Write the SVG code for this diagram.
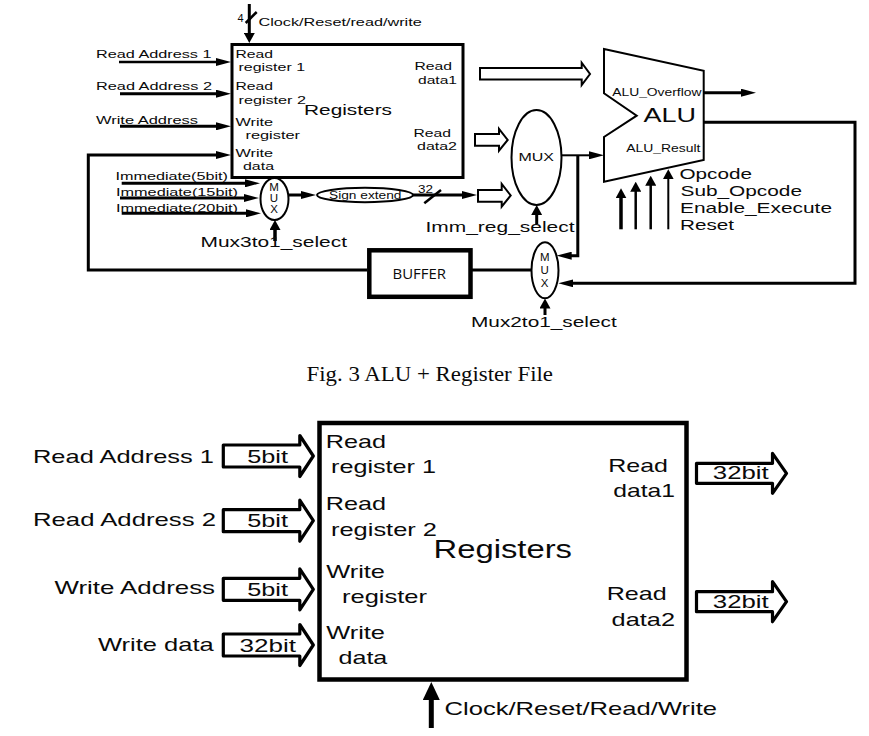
<svg xmlns="http://www.w3.org/2000/svg" width="869" height="736" viewBox="0 0 869 736">
<style>
text{font-family:"Liberation Sans",Arial,sans-serif;fill:#0a0a0a}
.t9{font-size:10px}.t10{font-size:11px}.t11{font-size:11.5px}.t14{font-size:15px}.t19{font-size:19px}
.cap{font-family:"Liberation Serif","Times New Roman",serif;font-size:21px}
.n{fill:#fff;stroke:#000;stroke-width:2}
.c{fill:none;stroke:#000;stroke-linejoin:miter}
.w2{stroke-width:2}.w25{stroke-width:2.500}.w3{stroke-width:3}.w35{stroke-width:3.500}.w5{stroke-width:5}
.h{marker-end:url(#m1)}.u{marker-end:url(#m2)}.b{marker-end:url(#m3)}
.ha{fill:#fff;stroke:#000;stroke-width:2;stroke-linejoin:miter}
.hb{fill:#fff;stroke:#000;stroke-width:3.200;stroke-linejoin:round}
</style>
<defs>
<marker id="m1" markerUnits="userSpaceOnUse" markerWidth="15" markerHeight="8" refX="1" refY="4" orient="auto" viewBox="0 0 15 8"><path d="M0 0L15 4L0 8z"/></marker>
<marker id="m2" markerUnits="userSpaceOnUse" markerWidth="10" markerHeight="11" refX="1" refY="5.500" orient="auto" viewBox="0 0 10 11"><path d="M0 0L10 5.500L0 11z"/></marker>
<marker id="m3" markerUnits="userSpaceOnUse" markerWidth="18" markerHeight="17" refX="1" refY="8.500" orient="auto" viewBox="0 0 18 17"><path d="M0 0L18 8.500L0 17z"/></marker>
<path id="inArrow" d="M0-11H76.500V-20.500L90 0L76.500 20.500V11H0z"/>
<path id="outArrow" d="M0-10H76V-20L90 0L76 20V10H0z"/>
</defs>

<g id="connectors-top">
<path class="c w3 u" d="M249.300 4V34"/>
<path class="c w25" d="M245.700 23L256.700 12"/>
<path class="c w25 h" d="M119 62H217"/>
<path class="c w3 h" d="M120 93.700H217"/>
<path class="c w3 h" d="M120 126.300H217"/>
<path class="c w3 h" d="M367 270H88.300V155H217"/>
<path class="c w3 h" d="M121.700 183.300H246"/>
<path class="c w3 h" d="M120 198H245"/>
<path class="c w3 h" d="M121.700 213.300H247"/>
<path class="c w3 h" d="M288 195H302"/>
<path class="c w3 h" d="M413 195H463"/>
<path class="c w25" d="M424.300 203.300L441 190"/>
<path class="c w35 u" d="M275 241V229"/>
<path class="c w3 u" d="M536.700 224V214"/>
<path class="c w2 h" d="M562 155.300H590"/>
<path class="c w3 h" d="M577.800 155.300V255.700H570.700"/>
<path class="c w3 h" d="M704 92.700H742"/>
<path class="c w3 h" d="M704 122.300H855V283.300H572.300"/>
<path class="c w3" d="M472 270H532"/>
<path class="c w3 u" d="M545 315V307.500"/>
<path class="c w35 u" d="M621 229.300V197.300"/>
<path class="c w25 u" d="M635.700 229.300V190.700"/>
<path class="c w25 u" d="M650.700 229.300V184.700"/>
<path class="c w2 u" d="M668.300 229.300V178.300"/>
</g>

<g id="hollow-arrows-top">
<path class="ha" d="M480 68H581.700V62.700L590 74L581.700 85V79.500H480z"/>
<path class="ha" d="M475 134H499V129L507.700 140L499 150.700V145.700H475z"/>
<path class="ha" d="M478 190H501.700V184L510.700 195.500L501.700 206.700V201.700H478z"/>
</g>

<g id="top-labels">
<text class="t10" x="237.500" y="21.500">4</text>
<text class="t11" x="258.500" y="26" textLength="163.200" lengthAdjust="spacingAndGlyphs">Clock/Reset/read/write</text>
<text class="t11" x="96" y="58" textLength="115.500" lengthAdjust="spacingAndGlyphs">Read Address 1</text>
<text class="t11" x="96" y="90" textLength="116" lengthAdjust="spacingAndGlyphs">Read Address 2</text>
<text class="t11" x="96" y="124" textLength="102" lengthAdjust="spacingAndGlyphs">Write Address</text>
<text class="t11" x="115.500" y="180" textLength="112.500" lengthAdjust="spacingAndGlyphs">Immediate(5bit)</text>
<text class="t11" x="116" y="196" textLength="122" lengthAdjust="spacingAndGlyphs">Immediate(15bit)</text>
<text class="t11" x="116" y="211.700" textLength="122" lengthAdjust="spacingAndGlyphs">Immediate(20bit)</text>
<text class="t14" x="200.500" y="247" textLength="146.500" lengthAdjust="spacingAndGlyphs">Mux3to1_select</text>
<text class="t14" x="425.500" y="232" textLength="149" lengthAdjust="spacingAndGlyphs">Imm_reg_select</text>
<text class="t14" x="471" y="326.700" textLength="145.700" lengthAdjust="spacingAndGlyphs">Mux2to1_select</text>
<text class="t14" x="679.500" y="179" textLength="72.500" lengthAdjust="spacingAndGlyphs">Opcode</text>
<text class="t14" x="680.500" y="196" textLength="121.500" lengthAdjust="spacingAndGlyphs">Sub_Opcode</text>
<text class="t14" x="680" y="212.700" textLength="152" lengthAdjust="spacingAndGlyphs">Enable_Execute</text>
<text class="t14" x="680" y="229.500" textLength="54" lengthAdjust="spacingAndGlyphs">Reset</text>
<text class="t10" x="418" y="193" textLength="15" lengthAdjust="spacingAndGlyphs">32</text>
</g>

<g id="registers-top">
<rect x="232" y="44.500" width="231" height="133" fill="#fff" stroke="#000" stroke-width="3"/>
<text class="t11" x="235.500" y="58" textLength="37.500" lengthAdjust="spacingAndGlyphs">Read</text>
<text class="t11" x="238.500" y="71" textLength="66.500" lengthAdjust="spacingAndGlyphs">register 1</text>
<text class="t11" x="235.500" y="90" textLength="37.500" lengthAdjust="spacingAndGlyphs">Read</text>
<text class="t11" x="238.500" y="104" textLength="67.500" lengthAdjust="spacingAndGlyphs">register 2</text>
<text class="t11" x="235.500" y="126" textLength="37.500" lengthAdjust="spacingAndGlyphs">Write</text>
<text class="t11" x="245.500" y="139" textLength="54.500" lengthAdjust="spacingAndGlyphs">register</text>
<text class="t11" x="235.500" y="157" textLength="37.500" lengthAdjust="spacingAndGlyphs">Write</text>
<text class="t11" x="243" y="170" textLength="31" lengthAdjust="spacingAndGlyphs">data</text>
<text class="t14" x="304" y="115" textLength="88" lengthAdjust="spacingAndGlyphs">Registers</text>
<text class="t11" x="414.500" y="70" textLength="37.500" lengthAdjust="spacingAndGlyphs">Read</text>
<text class="t11" x="418" y="84" textLength="39" lengthAdjust="spacingAndGlyphs">data1</text>
<text class="t11" x="413.500" y="137" textLength="37.500" lengthAdjust="spacingAndGlyphs">Read</text>
<text class="t11" x="417" y="150" textLength="40" lengthAdjust="spacingAndGlyphs">data2</text>
</g>

<g id="mux3to1">
<ellipse class="n" cx="274.500" cy="199" rx="14" ry="21"/>
<text class="t11" x="274" y="190.700" text-anchor="middle">M</text>
<text class="t11" x="274" y="202" text-anchor="middle">U</text>
<text class="t11" x="274" y="213" text-anchor="middle">X</text>
</g>

<g id="sign-extend">
<ellipse class="n" cx="365" cy="195" rx="48" ry="7.200"/>
<text class="t9" x="329" y="198.500" textLength="72.500" lengthAdjust="spacingAndGlyphs">Sign extend</text>
</g>

<g id="mux-main">
<ellipse class="n" cx="536.500" cy="157.500" rx="25" ry="47.500"/>
<text class="t11" x="518.500" y="161" textLength="35.500" lengthAdjust="spacingAndGlyphs">MUX</text>
</g>

<g id="alu">
<path class="n" d="M604 49L703.700 70.700V160L604 181.700V137L636.700 115.700L604 93.300z"/>
<text class="t9" x="612.200" y="96" textLength="89.300" lengthAdjust="spacingAndGlyphs">ALU_Overflow</text>
<text x="643.500" y="122" font-size="20" textLength="52.500" lengthAdjust="spacingAndGlyphs">ALU</text>
<text class="t9" x="626.200" y="151.700" textLength="74.300" lengthAdjust="spacingAndGlyphs">ALU_Result</text>
</g>

<g id="mux2to1">
<ellipse class="n" cx="545" cy="270.300" rx="13.500" ry="28"/>
<text class="t11" x="544.700" y="260.700" text-anchor="middle">M</text>
<text class="t11" x="544.700" y="274" text-anchor="middle">U</text>
<text class="t11" x="544.700" y="287" text-anchor="middle">X</text>
</g>

<g id="buffer">
<rect x="369.300" y="250.300" width="101.200" height="46.500" fill="#fff" stroke="#000" stroke-width="4.500"/>
<text x="392.500" y="279" font-size="14" textLength="53.500" lengthAdjust="spacingAndGlyphs" style="font-family:'Open Sans','Liberation Sans',sans-serif">BUFFER</text>
</g>

<text id="caption" class="cap" x="306.500" y="381" textLength="246.500" lengthAdjust="spacingAndGlyphs">Fig. 3 ALU + Register File</text>

<g id="connectors-bottom">
<path class="c w5 b" d="M431.300 728V699"/>
<use href="#inArrow" class="hb" transform="translate(223.300 456)"/>
<use href="#inArrow" class="hb" transform="translate(223.300 520.700)"/>
<use href="#inArrow" class="hb" transform="translate(223.300 589.300)"/>
<use href="#inArrow" class="hb" transform="translate(223.300 645)"/>
<use href="#outArrow" class="hb" transform="translate(696.500 473.300)"/>
<use href="#outArrow" class="hb" transform="translate(696.500 601.700)"/>
</g>

<g id="bottom-labels">
<text class="t19" x="33" y="463.300" textLength="181" lengthAdjust="spacingAndGlyphs">Read Address 1</text>
<text class="t19" x="33" y="526" textLength="183" lengthAdjust="spacingAndGlyphs">Read Address 2</text>
<text class="t19" x="54.500" y="594.300" textLength="160.500" lengthAdjust="spacingAndGlyphs">Write Address</text>
<text class="t19" x="98" y="650.700" textLength="115.700" lengthAdjust="spacingAndGlyphs">Write data</text>
<text class="t19" x="247.200" y="462.700" textLength="40.800" lengthAdjust="spacingAndGlyphs">5bit</text>
<text class="t19" x="247.200" y="526.700" textLength="40.800" lengthAdjust="spacingAndGlyphs">5bit</text>
<text class="t19" x="247.200" y="596" textLength="40.800" lengthAdjust="spacingAndGlyphs">5bit</text>
<text class="t19" x="239.500" y="652.300" textLength="56.500" lengthAdjust="spacingAndGlyphs">32bit</text>
<text class="t19" x="712.800" y="479.300" textLength="55.900" lengthAdjust="spacingAndGlyphs">32bit</text>
<text class="t19" x="712.800" y="608.300" textLength="55.900" lengthAdjust="spacingAndGlyphs">32bit</text>
<text class="t19" x="444.500" y="715" textLength="272.500" lengthAdjust="spacingAndGlyphs">Clock/Reset/Read/Write</text>
</g>

<g id="registers-bottom">
<rect x="319.500" y="423" width="367" height="256.500" fill="none" stroke="#000" stroke-width="4.500"/>
<text class="t19" x="325.700" y="448.300" textLength="60.300" lengthAdjust="spacingAndGlyphs">Read</text>
<text class="t19" x="331" y="473.300" textLength="105" lengthAdjust="spacingAndGlyphs">register 1</text>
<text class="t19" x="325.700" y="510" textLength="60.300" lengthAdjust="spacingAndGlyphs">Read</text>
<text class="t19" x="331" y="535.700" textLength="106" lengthAdjust="spacingAndGlyphs">register 2</text>
<text class="t19" x="326.200" y="578.300" textLength="58.800" lengthAdjust="spacingAndGlyphs">Write</text>
<text class="t19" x="342" y="603.300" textLength="85" lengthAdjust="spacingAndGlyphs">register</text>
<text class="t19" x="326.200" y="639.300" textLength="58.800" lengthAdjust="spacingAndGlyphs">Write</text>
<text class="t19" x="338.500" y="664.300" textLength="48.800" lengthAdjust="spacingAndGlyphs">data</text>
<text x="433.500" y="558.300" font-size="26" textLength="138.500" lengthAdjust="spacingAndGlyphs">Registers</text>
<text class="t19" x="608.300" y="471.700" textLength="59.700" lengthAdjust="spacingAndGlyphs">Read</text>
<text class="t19" x="613.300" y="497.300" textLength="61.700" lengthAdjust="spacingAndGlyphs">data1</text>
<text class="t19" x="606.700" y="600" textLength="60" lengthAdjust="spacingAndGlyphs">Read</text>
<text class="t19" x="611.600" y="625.700" textLength="63.400" lengthAdjust="spacingAndGlyphs">data2</text>
</g>
</svg>
